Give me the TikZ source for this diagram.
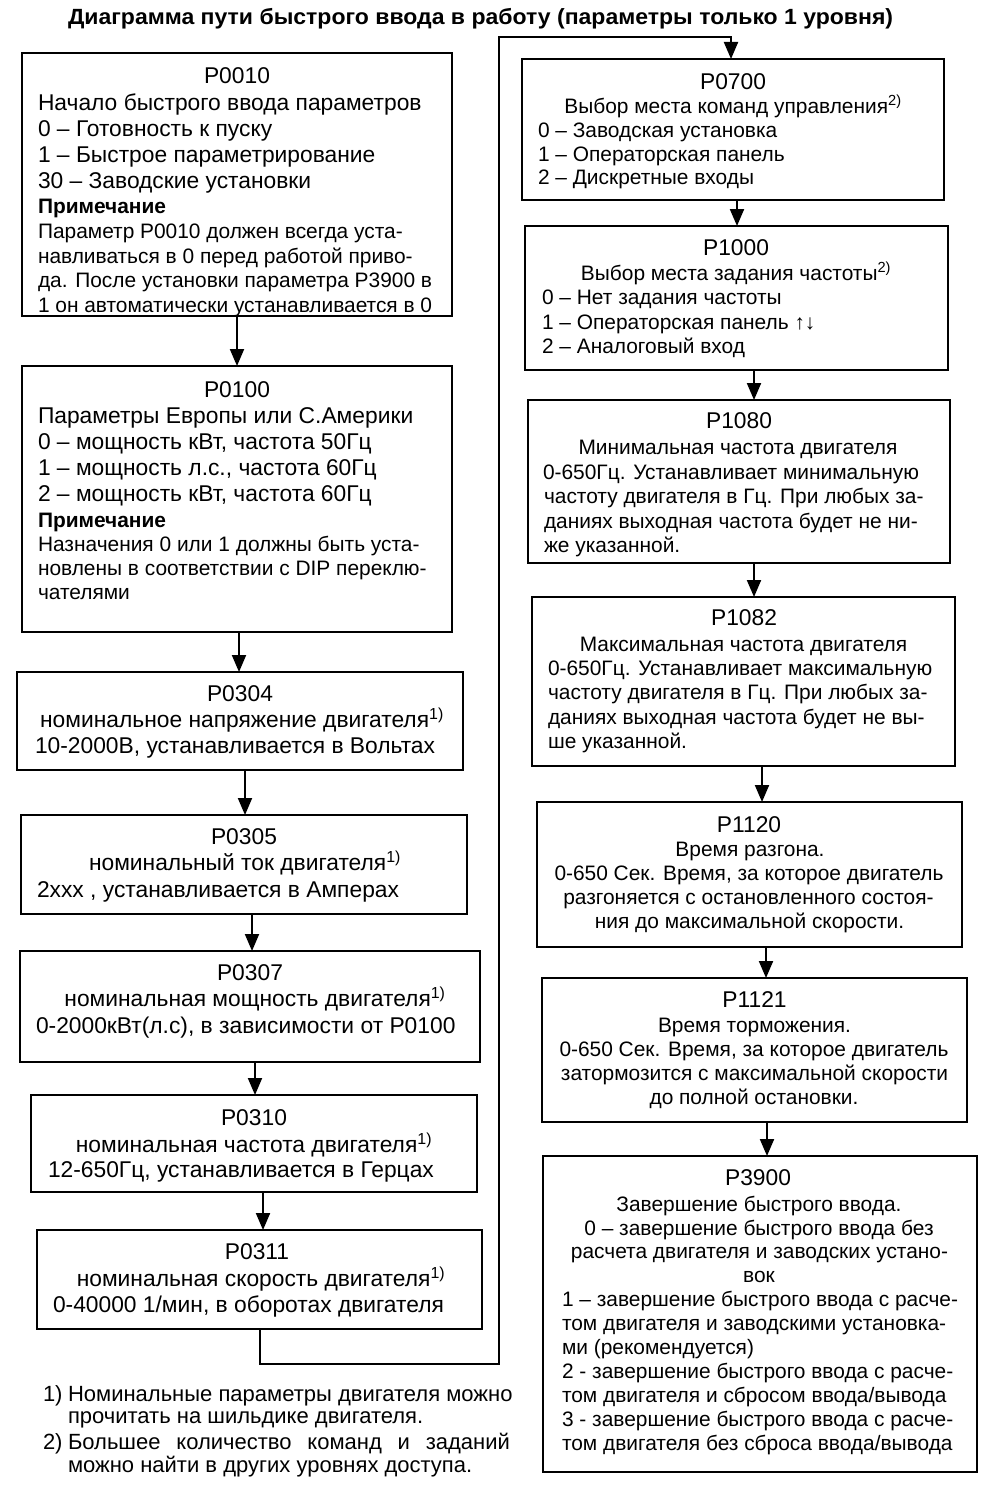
\documentclass[tikz,border=0pt]{standalone}
\usepackage{fontspec}
\setmainfont{Liberation Sans}
\usetikzlibrary{arrows.meta,fit}
\tikzset{
  box/.style={draw, line width=2pt, inner sep=0pt, outer sep=0pt, rectangle},
  L/.style={inner sep=0pt, outer sep=0pt, anchor=base west},
  C/.style={inner sep=0pt, outer sep=0pt, anchor=base},
  fbig/.style={font=\fontsize{22.8}{25}\selectfont},
  fsml/.style={font=\fontsize{20.9}{24}\selectfont},
  fnote/.style={font=\bfseries\fontsize{20.9}{24}\selectfont},
  ffoot/.style={font=\fontsize{22}{23}\selectfont},
  arr/.style={line width=2pt, -{Triangle[width=14pt,length=17pt]}},
  link/.style={line width=2pt}
}
\newcommand{\sps}[1]{\textsuperscript{#1}}
\begin{document}
\begin{tikzpicture}[x=1pt,y=-1pt]
\fill[white] (0,0) rectangle (989,1496);
\useasboundingbox (0,0) rectangle (989,1496);

% title
\node[L] (title) at (68,25) {\resizebox{825pt}{\height}{\bfseries\fontsize{22}{24}\selectfont Диаграмма пути быстрого ввода в работу (параметры только 1 уровня)}};

% ---------- left column ----------
\begin{scope}
\clip (22,53) rectangle (452,315);
\node[C,fbig] (p0010t) at (237,83) {P0010};
\node[L,fbig] (p0010a) at (38,110) {Начало быстрого ввода параметров};
\node[L,fbig] (p0010b) at (38,136.5) {0 – Готовность к пуску};
\node[L,fbig] (p0010c) at (38,162.5) {1 – Быстрое параметрирование};
\node[L,fbig] (p0010d) at (38,188.5) {30 – Заводские установки};
\node[L,fnote] (p0010e) at (38,213) {Примечание};
\node[L,fsml] (p0010f) at (38,238.5) {Параметр P0010 должен всегда уста-};
\node[L,fsml] (p0010g) at (38,263) {навливаться в 0 перед работой приво-};
\node[L,fsml] (p0010h) at (38,287.5) {да. После установки параметра P3900 в};
\node[L,fsml] (p0010i) at (38,312) {1 он автоматически устанавливается в 0};
\end{scope}
\node[box, fit={(22,53) (452,316)}] (b0010) {};

\node[C,fbig] (p0100t) at (237,397) {P0100};
\node[L,fbig] (p0100a) at (38,423) {Параметры Европы или С.Америки};
\node[L,fbig] (p0100b) at (38,449) {0 – мощность кВт, частота 50Гц};
\node[L,fbig] (p0100c) at (38,475) {1 – мощность л.с., частота 60Гц};
\node[L,fbig] (p0100d) at (38,501) {2 – мощность кВт, частота 60Гц};
\node[L,fnote] (p0100e) at (38,527) {Примечание};
\node[L,fsml] (p0100f) at (38,551.5) {Назначения 0 или 1 должны быть уста-};
\node[L,fsml] (p0100g) at (38,575.5) {новлены в соответствии с DIP переклю-};
\node[L,fsml] (p0100h) at (38,599.5) {чателями};
\node[box, fit={(22,366) (452,632)}] (b0100) {};

\node[C,fbig] (p0304t) at (240,701) {P0304};
\node[C,fbig] (p0304a) at (242,727) {номинальное напряжение двигателя\sps{1)}};
\node[L,fbig] (p0304b) at (35,753) {10-2000В, устанавливается в Вольтах};
\node[box, fit={(17,672) (463,770)}] (b0304) {};

\node[C,fbig] (p0305t) at (244,844.5) {P0305};
\node[C,fbig] (p0305a) at (245,870) {номинальный ток двигателя\sps{1)}};
\node[L,fbig] (p0305b) at (37,897) {2xxx , устанавливается в Амперах};
\node[box, fit={(21,815) (467,914)}] (b0305) {};

\node[C,fbig] (p0307t) at (250,980) {P0307};
\node[C,fbig] (p0307a) at (255,1006.5) {номинальная мощность двигателя\sps{1)}};
\node[L,fbig] (p0307b) at (36,1033) {0-2000кВт(л.с), в зависимости от P0100};
\node[box, fit={(20,951) (480,1062)}] (b0307) {};

\node[C,fbig] (p0310t) at (254,1125) {P0310};
\node[C,fbig] (p0310a) at (254,1152) {номинальная частота двигателя\sps{1)}};
\node[L,fbig] (p0310b) at (48,1177) {12-650Гц, устанавливается в Герцах};
\node[box, fit={(31,1095) (477,1192)}] (b0310) {};

\node[C,fbig] (p0311t) at (257,1259.5) {P0311};
\node[C,fbig] (p0311a) at (261,1286.5) {номинальная скорость двигателя\sps{1)}};
\node[L,fbig] (p0311b) at (53,1312) {0-40000 1/мин, в оборотах двигателя};
\node[box, fit={(37,1230) (482,1329)}] (b0311) {};

% footnotes
\node[L,ffoot] (f1n) at (43,1401) {1)};
\node[L,ffoot] (f1a) at (68,1401) {Номинальные параметры двигателя можно};
\node[L,ffoot] (f1b) at (68,1423.5) {прочитать на шильдике двигателя.};
\node[L,ffoot] (f2n) at (43,1449) {2)};
\node[L,ffoot] (f2a) at (68,1449) {\hbox to 442pt{Большее\hfill количество\hfill команд\hfill и\hfill заданий}};
\node[L,ffoot] (f2b) at (68,1472) {можно найти в других уровнях доступа.};

% ---------- right column ----------
\node[C,fbig] (p0700t) at (733,89.5) {P0700};
\node[C,fsml] (p0700a) at (733,113) {Выбор места команд управления\sps{2)}};
\node[L,fsml] (p0700b) at (538,137) {0 – Заводская установка};
\node[L,fsml] (p0700c) at (538,161) {1 – Операторская панель};
\node[L,fsml] (p0700d) at (538,184.5) {2 – Дискретные входы};
\node[box, fit={(522,59) (944,200)}] (b0700) {};

\node[C,fbig] (p1000t) at (736,255) {P1000};
\node[C,fsml] (p1000a) at (736,280) {Выбор места задания частоты\sps{2)}};
\node[L,fsml] (p1000b) at (542,304.5) {0 – Нет задания частоты};
\node[L,fsml] (p1000c) at (542,329) {1 – Операторская панель ↑↓};
\node[L,fsml] (p1000d) at (542,353) {2 – Аналоговый вход};
\node[box, fit={(525,226) (948,370)}] (b1000) {};

\node[C,fbig] (p1080t) at (739,428.5) {P1080};
\node[C,fsml] (p1080a) at (738,454) {Минимальная частота двигателя};
\node[L,fsml] (p1080b) at (543,479) {0-650Гц. Устанавливает минимальную};
\node[L,fsml] (p1080c) at (544,503.5) {частоту двигателя в Гц. При любых за-};
\node[L,fsml] (p1080d) at (544,528) {даниях выходная частота будет не ни-};
\node[L,fsml] (p1080e) at (544,552) {же указанной.};
\node[box, fit={(528,400) (950,563)}] (b1080) {};

\node[C,fbig] (p1082t) at (744,625.5) {P1082};
\node[C,fsml] (p1082a) at (743.5,651) {Максимальная частота двигателя};
\node[L,fsml] (p1082b) at (548,675) {0-650Гц. Устанавливает максимальную};
\node[L,fsml] (p1082c) at (548,699.5) {частоту двигателя в Гц. При любых за-};
\node[L,fsml] (p1082d) at (548,724) {даниях выходная частота будет не вы-};
\node[L,fsml] (p1082e) at (548,748) {ше указанной.};
\node[box, fit={(532,597) (955,766)}] (b1082) {};

\node[C,fbig] (p1120t) at (749,832.5) {P1120};
\node[C,fsml] (p1120a) at (750,856) {Время разгона.};
\node[C,fsml] (p1120b) at (749,880) {0-650 Сек. Время, за которое двигатель};
\node[C,fsml] (p1120c) at (748.5,904) {разгоняется с остановленного состоя-};
\node[C,fsml] (p1120d) at (749.5,928) {ния до максимальной скорости.};
\node[box, fit={(537,802) (962,947)}] (b1120) {};

\node[C,fbig] (p1121t) at (754.5,1007.5) {P1121};
\node[C,fsml] (p1121a) at (754.5,1032) {Время торможения.};
\node[C,fsml] (p1121b) at (754,1056) {0-650 Сек. Время, за которое двигатель};
\node[C,fsml] (p1121c) at (754.5,1080) {затормозится с максимальной скорости};
\node[C,fsml] (p1121d) at (754,1104) {до полной остановки.};
\node[box, fit={(542,978) (967,1122)}] (b1121) {};

\node[C,fbig] (p3900t) at (758,1185.5) {P3900};
\node[C,fsml] (p3900a) at (759,1211) {Завершение быстрого ввода.};
\node[C,fsml] (p3900b) at (759,1235) {0 – завершение быстрого ввода без};
\node[C,fsml] (p3900c) at (759.5,1258) {расчета двигателя и заводских устано-};
\node[C,fsml] (p3900d) at (759,1282) {вок};
\node[L,fsml] (p3900e) at (562,1306.5) {1 – завершение быстрого ввода с расче-};
\node[L,fsml] (p3900f) at (562,1330) {том двигателя и заводскими установка-};
\node[L,fsml] (p3900g) at (562,1354) {ми (рекомендуется)};
\node[L,fsml] (p3900h) at (562,1378.5) {2 - завершение быстрого ввода с расче-};
\node[L,fsml] (p3900i) at (562,1402.5) {том двигателя и сбросом ввода/вывода};
\node[L,fsml] (p3900j) at (562,1426.5) {3 - завершение быстрого ввода с расче-};
\node[L,fsml] (p3900k) at (562,1450) {том двигателя без сброса ввода/вывода};
\node[box, fit={(543,1156) (977,1472)}] (b3900) {};

% ---------- connectors ----------
\draw[arr] (b0010.south -| 237,0) -- (b0100.north -| 237,0);
\draw[arr] (b0100.south -| 239,0) -- (b0304.north -| 239,0);
\draw[arr] (b0304.south -| 245,0) -- (b0305.north -| 245,0);
\draw[arr] (b0305.south -| 252,0) -- (b0307.north -| 252,0);
\draw[arr] (b0307.south -| 255,0) -- (b0310.north -| 255,0);
\draw[arr] (b0310.south -| 263,0) -- (b0311.north -| 263,0);

\coordinate (fbA) at (499,1364);
\coordinate (fbB) at (731,37);
\draw[arr] (b0311.south -| 260,0) |- (fbA) |- (fbB) -- (b0700.north -| fbB);

\draw[arr] (b0700.south -| 737,0) -- (b1000.north -| 737,0);
\draw[arr] (b1000.south -| 754,0) -- (b1080.north -| 754,0);
\draw[arr] (b1080.south -| 754,0) -- (b1082.north -| 754,0);
\draw[arr] (b1082.south -| 762,0) -- (b1120.north -| 762,0);
\draw[arr] (b1120.south -| 766,0) -- (b1121.north -| 766,0);
\draw[arr] (b1121.south -| 767,0) -- (b3900.north -| 767,0);
\end{tikzpicture}
\end{document}
